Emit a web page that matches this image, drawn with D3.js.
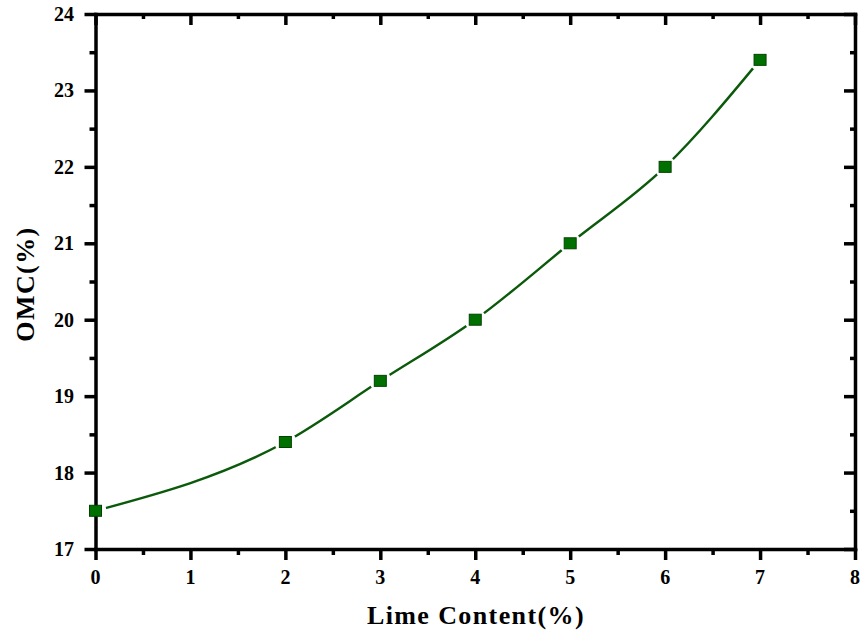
<!DOCTYPE html>
<html><head><meta charset="utf-8">
<script src="https://cdn.jsdelivr.net/npm/d3@7"></script>
<style>body{margin:0;background:#fff}svg{display:block}</style>
</head><body><svg id="c" width="864" height="635"></svg>
<script>
const limeContent = [0, 2, 3, 4, 5, 6, 7];
const omc = [17.5, 18.4, 19.2, 20.0, 21.0, 22.0, 23.4];
const xTicks = [0, 1, 2, 3, 4, 5, 6, 7, 8];
const yTicks = [17, 18, 19, 20, 21, 22, 23, 24];
const xTitle = "Lime Content(%)";
const yTitle = "OMC(%)";

const svg = d3.select("#c");
const L = 95.5, R = 855, T = 14, B = 549;
const x = d3.scaleLinear().domain([0, 8]).range([L, R]);
const y = d3.scaleLinear().domain([17, 24]).range([B, T]);
const font = "'Liberation Serif','Times New Roman',serif";
const pts = limeContent.map((d, i) => [x(d), y(omc[i])]);
const SW = 3.5;

// curve
svg.append("path").attr("d", d3.line().curve(d3.curveMonotoneX)(pts))
  .attr("fill", "none").attr("stroke", "#0b5a0b").attr("stroke-width", 2.4);
// white halos to create gaps near markers
svg.selectAll("circle.halo").data(pts).join("circle")
  .attr("cx", d => d[0]).attr("cy", d => d[1]).attr("r", 11).attr("fill", "#fff");

// axes
const minor = d3.range(0.5, 8, 1);
const yMinor = d3.range(17.5, 24, 1);
function styl(g, keepDomain) {
  if (!keepDomain) g.select(".domain").remove();
  g.selectAll("line,path").attr("stroke", "#000").attr("stroke-width", SW);
}
function addAxis(axisFn, scale, vals, size, tr, keepDomain) {
  svg.append("g").attr("transform", tr)
    .call(axisFn(scale).tickValues(vals).tickSize(size).tickSizeOuter(0).tickFormat(""))
    .call(g => styl(g, keepDomain));
}
addAxis(d3.axisBottom, x, xTicks, 11, `translate(0,${B})`, true);
addAxis(d3.axisBottom, x, minor, 6, `translate(0,${B})`, false);
addAxis(d3.axisBottom, x, xTicks, 11, `translate(0,${T})`, true);
addAxis(d3.axisBottom, x, minor, 5, `translate(0,${T})`, false);
addAxis(d3.axisLeft, y, yTicks, 11, `translate(${L},0)`, true);
addAxis(d3.axisLeft, y, yMinor, 6, `translate(${L},0)`, false);
addAxis(d3.axisLeft, y, yTicks, 11, `translate(${R},0)`, true);
addAxis(d3.axisLeft, y, yMinor, 5, `translate(${R},0)`, false);
svg.selectAll(".domain").attr("stroke-linecap", "square");

// tick labels
svg.append("g").selectAll("text").data(xTicks).join("text")
  .attr("x", d => x(d)).attr("y", 584).attr("text-anchor", "middle")
  .attr("font-family", font).attr("font-weight", "bold").attr("font-size", 20).text(d => d);
svg.append("g").selectAll("text").data(yTicks).join("text")
  .attr("x", 74).attr("y", d => y(d) + 7).attr("text-anchor", "end")
  .attr("font-family", font).attr("font-weight", "bold").attr("font-size", 20).text(d => d);

// titles
svg.append("text").attr("x", 476).attr("y", 624).attr("text-anchor", "middle")
  .attr("font-family", font).attr("font-weight", "bold").attr("font-size", 26)
  .attr("letter-spacing", 1.4).text(xTitle);
svg.append("text").attr("transform", "translate(34,284) rotate(-90)").attr("text-anchor", "middle")
  .attr("font-family", font).attr("font-weight", "bold").attr("font-size", 26)
  .attr("letter-spacing", 1.4).text(yTitle);

// markers
svg.selectAll("rect.m").data(pts).join("rect")
  .attr("x", d => d[0] - 6).attr("y", d => d[1] - 5.5)
  .attr("width", 12).attr("height", 11)
  .attr("fill", "#007000").attr("stroke", "#004400").attr("stroke-width", 1);
</script></body></html>
